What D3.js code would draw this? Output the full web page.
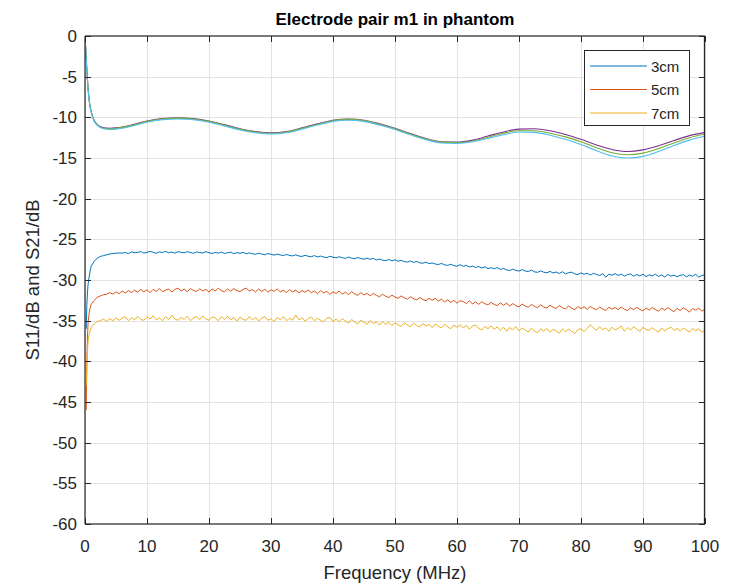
<!DOCTYPE html>
<html><head><meta charset="utf-8">
<script src="https://cdn.jsdelivr.net/npm/d3@7"></script>
<style>body{margin:0;background:#fff}svg{display:block}text{font-family:"Liberation Sans",Arial,sans-serif;fill:#262626}</style>
</head><body><svg id="c" width="734" height="584"></svg>
<script>
// ---------- data ----------
const title = "Electrode pair m1 in phantom";
const xLabel = "Frequency (MHz)";
const yLabel = "S11/dB and S21/dB";
const xTicks = [0,10,20,30,40,50,60,70,80,90,100];
const yTicks = [0,-5,-10,-15,-20,-25,-30,-35,-40,-45,-50,-55,-60];
const legendNames = ["3cm","5cm","7cm"];
const colors = ["#0072BD","#D95319","#EDB120","#7E2F8E","#77AC30","#4DBEEE"];

// S21 start-up segment (MHz)
const s21EarlyFreq = [0.2,0.3,0.4,0.5,0.65,0.8];
const s21Early3 = [-36,-33,-31.5,-30.5,-29.7,-29];
const s21Early5 = [-46,-40,-37,-35.2,-34.2,-33.5];
const s21Early7 = [-43,-40.5,-38.8,-37.5,-36.8,-36.3];
// S21 uniform samples from 1 MHz to 100 MHz every 0.5 MHz
const s21Start = 1, s21Step = 0.5;
const s21_3cm = [
-28.3,-27.7,-27.3,-27.1,-27.0,-26.9,-26.8,-26.75,-26.7,-26.68,
-26.7,-26.62,-26.75,-26.55,-26.65,-26.6,-26.5,-26.7,-26.6,-26.48,
-26.6,-26.72,-26.55,-26.62,-26.48,-26.66,-26.56,-26.7,-26.52,-26.6,
-26.66,-26.52,-26.62,-26.72,-26.55,-26.62,-26.68,-26.52,-26.64,-26.74,
-26.6,-26.7,-26.56,-26.74,-26.64,-26.58,-26.76,-26.64,-26.72,-26.6,
-26.78,-26.66,-26.78,-26.84,-26.7,-26.8,-26.9,-26.74,-26.84,-26.94,
-26.82,-26.92,-27.0,-26.86,-26.98,-27.04,-26.9,-27.06,-27.1,-26.96,
-27.08,-27.14,-27.0,-27.16,-27.06,-27.18,-27.24,-27.08,-27.2,-27.28,
-27.14,-27.26,-27.34,-27.18,-27.32,-27.38,-27.24,-27.36,-27.44,-27.32,
-27.46,-27.34,-27.54,-27.42,-27.56,-27.62,-27.48,-27.64,-27.52,-27.7,
-27.58,-27.74,-27.8,-27.66,-27.84,-27.72,-27.9,-27.94,-27.8,-28.0,
-27.9,-28.04,-28.1,-27.96,-28.14,-28.2,-28.06,-28.24,-28.3,-28.12,
-28.32,-28.2,-28.4,-28.28,-28.46,-28.34,-28.52,-28.38,-28.6,-28.48,
-28.62,-28.48,-28.7,-28.58,-28.76,-28.84,-28.66,-28.82,-28.9,-28.72,
-28.9,-28.96,-28.78,-29.0,-29.06,-28.88,-29.04,-29.12,-28.94,-29.14,
-29.02,-29.2,-28.98,-29.24,-29.1,-29.04,-29.26,-29.34,-29.12,-29.3,
-29.16,-29.4,-29.18,-29.32,-29.44,-29.22,-29.66,-29.28,-29.42,-29.22,
-29.44,-29.28,-29.52,-29.34,-29.26,-29.54,-29.32,-29.5,-29.28,-29.6,
-29.36,-29.5,-29.28,-29.56,-29.38,-29.64,-29.32,-29.52,-29.4,-29.6,
-29.42,-29.34,-29.62,-29.38,-29.54,-29.3,-29.66,-29.44,-29.38];
const s21_5cm = [
-33.0,-32.5,-32.1,-31.95,-31.8,-31.75,-31.55,-31.75,-31.45,-31.68,
-31.35,-31.6,-31.3,-31.55,-31.25,-31.5,-31.15,-31.45,-31.2,-31.55,
-31.15,-31.4,-31.05,-31.45,-31.25,-31.1,-31.5,-31.15,-31.0,-31.35,
-31.12,-31.45,-31.05,-31.3,-31.4,-31.08,-31.35,-31.15,-31.5,-31.1,
-31.35,-31.02,-31.32,-31.45,-31.1,-31.38,-31.05,-31.3,-31.42,-31.15,
-31.0,-31.35,-31.18,-31.46,-31.12,-31.4,-31.15,-31.5,-31.2,-31.4,
-31.1,-31.45,-31.25,-31.55,-31.18,-31.48,-31.25,-31.6,-31.3,-31.5,
-31.22,-31.56,-31.35,-31.68,-31.3,-31.6,-31.4,-31.76,-31.45,-31.66,
-31.35,-31.74,-31.5,-31.8,-31.45,-31.7,-31.9,-31.55,-31.84,-31.65,
-31.95,-31.65,-31.9,-32.05,-31.75,-32.0,-32.15,-31.85,-32.1,-32.25,
-31.95,-32.2,-32.35,-32.05,-32.3,-32.45,-32.15,-32.4,-32.55,-32.25,
-32.5,-32.25,-32.6,-32.35,-32.7,-32.45,-32.75,-32.5,-32.85,-32.55,
-32.65,-32.9,-32.55,-32.95,-32.7,-33.0,-32.65,-32.92,-33.05,-32.75,
-33.0,-33.15,-32.8,-33.1,-32.85,-33.2,-32.9,-33.15,-33.3,-32.95,
-33.2,-33.35,-33.0,-33.25,-33.4,-33.05,-33.32,-33.45,-33.1,-33.35,
-33.5,-33.15,-33.42,-33.55,-33.2,-33.46,-33.65,-33.25,-33.52,-33.3,
-33.6,-33.25,-33.5,-33.65,-33.32,-33.56,-33.75,-33.35,-33.6,-33.38,
-33.65,-33.32,-33.6,-33.75,-33.4,-33.66,-33.35,-33.62,-33.8,-33.45,
-33.7,-33.38,-33.64,-33.85,-33.45,-33.7,-33.4,-33.66,-33.9,-33.5,
-33.75,-33.42,-33.66,-33.95,-33.5,-33.72,-33.45,-33.85,-33.55];
const s21_7cm = [
-35.8,-35.4,-35.1,-35.0,-34.8,-35.1,-34.75,-35.0,-34.65,-34.95,
-34.7,-34.5,-35.0,-34.65,-34.9,-34.45,-34.85,-34.95,-34.5,-34.8,
-34.4,-34.9,-34.65,-35.0,-34.5,-34.85,-34.35,-34.8,-34.95,-34.6,
-34.85,-34.45,-35.0,-34.65,-34.5,-34.9,-34.4,-34.8,-34.95,-34.55,
-34.65,-35.0,-34.5,-34.85,-34.45,-34.9,-34.6,-35.05,-34.55,-34.85,
-34.95,-34.5,-34.9,-34.6,-35.05,-34.7,-34.5,-34.95,-34.75,-35.1,
-34.6,-34.9,-34.5,-35.0,-34.7,-34.95,-34.3,-34.9,-34.65,-35.05,
-34.75,-34.55,-35.0,-34.7,-34.95,-35.15,-34.7,-34.6,-35.1,-34.8,
-35.15,-34.75,-35.05,-35.3,-34.85,-35.15,-35.4,-34.95,-35.2,-35.45,
-35.0,-35.35,-35.15,-35.55,-35.1,-35.45,-35.2,-35.6,-35.25,-35.5,
-35.7,-35.25,-35.55,-35.75,-35.3,-35.6,-35.8,-35.35,-35.65,-35.45,
-35.85,-35.4,-35.7,-35.9,-35.45,-35.75,-36.0,-35.55,-35.8,-35.5,
-35.9,-35.6,-36.05,-35.65,-35.55,-35.95,-36.15,-35.7,-36.0,-35.65,
-36.05,-35.75,-36.2,-35.8,-36.3,-35.85,-36.1,-35.75,-36.25,-35.9,
-36.15,-36.4,-35.9,-36.25,-36.5,-36.0,-36.3,-35.95,-36.45,-36.05,
-36.25,-36.55,-36.0,-36.35,-36.05,-36.3,-36.6,-36.1,-36.0,-36.35,
-35.95,-35.5,-35.85,-36.2,-35.75,-36.1,-35.9,-36.3,-35.8,-36.15,
-35.95,-35.65,-36.3,-35.85,-36.15,-35.75,-36.05,-36.3,-35.8,-36.1,
-36.2,-35.85,-36.15,-36.4,-35.9,-36.25,-36.0,-35.8,-36.2,-35.95,
-36.3,-35.9,-36.15,-36.4,-35.95,-36.25,-36.0,-36.45,-36.1];

// S11 (smooth) curves
const s11Freq = [0,0.25,0.5,0.75,1,1.5,2,3,4,5,7.5,10,12.5,15,17.5,20,22.5,25,27.5,30,32.5,35,37.5,40,42.5,45,47.5,50,52.5,55,57.5,60,62.5,65,67.5,70,72.5,75,77.5,80,82.5,85,87.5,90,92.5,95,97.5,100];
const s11_a = [0,-3.5,-6.5,-8.3,-9.3,-10.4,-10.9,-11.3,-11.35,-11.3,-10.95,-10.45,-10.15,-10.05,-10.15,-10.45,-10.9,-11.4,-11.75,-11.9,-11.75,-11.3,-10.8,-10.35,-10.2,-10.35,-10.8,-11.35,-12.0,-12.6,-13.0,-13.05,-12.8,-12.3,-11.8,-11.45,-11.4,-11.65,-12.1,-12.7,-13.4,-13.95,-14.2,-14.0,-13.5,-12.85,-12.25,-11.85];
const s11_b = [0,-3.5,-6.5,-8.3,-9.3,-10.45,-10.95,-11.35,-11.4,-11.35,-11.0,-10.5,-10.2,-10.1,-10.2,-10.5,-10.95,-11.45,-11.8,-11.95,-11.8,-11.35,-10.85,-10.4,-10.25,-10.4,-10.85,-11.4,-12.05,-12.65,-13.05,-13.1,-12.9,-12.45,-11.95,-11.65,-11.65,-11.95,-12.4,-13.0,-13.75,-14.35,-14.6,-14.4,-13.85,-13.15,-12.5,-12.05];
const s11_c = [0,-3.6,-6.6,-8.4,-9.4,-10.5,-11.0,-11.4,-11.5,-11.45,-11.1,-10.6,-10.3,-10.2,-10.3,-10.6,-11.05,-11.55,-11.9,-12.05,-11.9,-11.45,-10.95,-10.5,-10.35,-10.5,-10.95,-11.5,-12.15,-12.75,-13.15,-13.2,-13.0,-12.6,-12.15,-11.8,-11.85,-12.2,-12.7,-13.35,-14.1,-14.75,-15.0,-14.8,-14.2,-13.45,-12.8,-12.3];

// ---------- chart ----------
const W = 734, H = 584;
const m = {left:85, right:29, top:36, bottom:60};
const svg = d3.select("#c");
const x = d3.scaleLinear().domain([0,100]).range([m.left, W - m.right]);
const y = d3.scaleLinear().domain([-60,0]).range([H - m.bottom, m.top]);

// grid
const g = svg.append("g");
g.selectAll(".gx").data(xTicks).join("line")
  .attr("x1", d => Math.round(x(d))+0.5).attr("x2", d => Math.round(x(d))+0.5)
  .attr("y1", m.top).attr("y2", H - m.bottom).attr("stroke","#e3e3e3").attr("stroke-width",1);
g.selectAll(".gy").data(yTicks).join("line")
  .attr("y1", d => Math.round(y(d))+0.5).attr("y2", d => Math.round(y(d))+0.5)
  .attr("x1", m.left).attr("x2", W - m.right).attr("stroke","#e3e3e3").attr("stroke-width",1);

// series
function mk(early, vals, earlyF){
  const pts = earlyF.map((f,i)=>[f, early[i]]);
  vals.forEach((v,i)=>pts.push([s21Start + i*s21Step, v]));
  return pts;
}
const s21Series = [mk(s21Early3, s21_3cm, s21EarlyFreq), mk(s21Early5, s21_5cm, s21EarlyFreq), mk(s21Early7, s21_7cm, s21EarlyFreq)];
const s11Series = [s11_a, s11_b, s11_c].map(a => s11Freq.map((f,i)=>[f, a[i]]));

const clip = svg.append("clipPath").attr("id","pc").append("rect")
  .attr("x", m.left).attr("y", m.top).attr("width", W-m.left-m.right).attr("height", H-m.top-m.bottom);
const plot = svg.append("g").attr("clip-path","url(#pc)");
const line = d3.line().x(d=>x(d[0])).y(d=>y(d[1]));
const sline = d3.line().x(d=>x(d[0])).y(d=>y(d[1])).curve(d3.curveMonotoneX);
s21Series.forEach((s,i)=>{
  plot.append("path").attr("d", line(s)).attr("fill","none").attr("stroke", colors[i]).attr("stroke-width",1);
});
s11Series.forEach((s,i)=>{
  plot.append("path").attr("d", sline(s)).attr("fill","none").attr("stroke", colors[i+3]).attr("stroke-width",1.1);
});

// axes frame
const ax = svg.append("g");
const xb = x(0), xe = x(100), yb = y(-60), yt = y(0);
ax.append("line").attr("x1",xb).attr("x2",xe).attr("y1",yb).attr("y2",yb).attr("stroke","#7a7a7a").attr("stroke-width",2);
ax.append("line").attr("x1",xb).attr("x2",xe).attr("y1",yt).attr("y2",yt).attr("stroke","#7a7a7a").attr("stroke-width",2);
ax.append("line").attr("x1",Math.round(xb)).attr("x2",Math.round(xb)).attr("y1",yt).attr("y2",yb).attr("stroke","#262626").attr("stroke-width",1.2);
ax.append("line").attr("x1",Math.round(xe)-0.5).attr("x2",Math.round(xe)-0.5).attr("y1",yt).attr("y2",yb).attr("stroke","#262626").attr("stroke-width",1.3);
// ticks (inside)
const tl = 6;
xTicks.forEach(t=>{
  const px = Math.round(x(t))+0.5;
  ax.append("line").attr("x1",px).attr("x2",px).attr("y1",yb).attr("y2",yb-tl).attr("stroke","#262626");
  ax.append("line").attr("x1",px).attr("x2",px).attr("y1",yt).attr("y2",yt+tl).attr("stroke","#262626");
});
yTicks.forEach(t=>{
  const py = Math.round(y(t))+0.5;
  ax.append("line").attr("x1",xb).attr("x2",xb+tl).attr("y1",py).attr("y2",py).attr("stroke","#262626");
  ax.append("line").attr("x1",xe).attr("x2",xe-tl).attr("y1",py).attr("y2",py).attr("stroke","#262626");
});
// tick labels
ax.selectAll(".xl").data(xTicks).join("text")
  .attr("x", d=>x(d)).attr("y", yb+28).attr("text-anchor","middle").attr("font-size",17).text(d=>d);
ax.selectAll(".yl").data(yTicks).join("text")
  .attr("x", xb-8).attr("y", d=>y(d)+6).attr("text-anchor","end").attr("font-size",17).text(d=>d);

// labels
svg.append("text").attr("x",(xb+xe)/2).attr("y",yb+55).attr("text-anchor","middle").attr("font-size",18.5).text(xLabel);
svg.append("text").attr("transform",`translate(39,${(yt+yb)/2}) rotate(-90)`).attr("text-anchor","middle").attr("font-size",18.5).text(yLabel);
svg.append("text").attr("x",(xb+xe)/2).attr("y",25).attr("text-anchor","middle").attr("font-size",17).attr("font-weight","bold").style("fill","#000").text(title);

// legend
const lg = svg.append("g");
lg.append("rect").attr("x",584.5).attr("y",50.5).attr("width",105).attr("height",75).attr("fill","#fff").attr("stroke","#262626").attr("stroke-width",1);
legendNames.forEach((n,i)=>{
  const ly = 66 + i*23.5;
  lg.append("line").attr("x1",590).attr("x2",647).attr("y1",ly).attr("y2",ly).attr("stroke",colors[i]).attr("stroke-width",1);
  lg.append("text").attr("x",651).attr("y",ly+5.5).attr("font-size",15).text(n);
});
</script></body></html>
